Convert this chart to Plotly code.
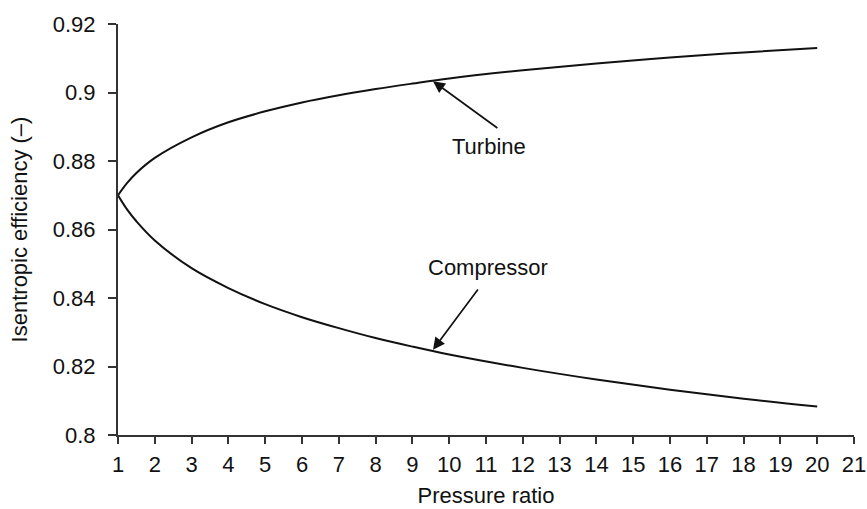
import plotly.graph_objects as go

pressure_ratio = [1.0, 1.25, 1.5, 2, 3, 4, 5, 6, 7, 8, 9, 10, 12, 14, 16, 18, 20]
turbine_eff = [0.8700, 0.8736, 0.8765, 0.8809, 0.8869, 0.8913, 0.8945, 0.8971, 0.8992,
               0.9010, 0.9026, 0.9041, 0.9065, 0.9085, 0.9102, 0.9117, 0.9130]
compressor_eff = [0.8700, 0.8658, 0.8624, 0.8568, 0.8487, 0.8429, 0.8382, 0.8344, 0.8312,
                  0.8283, 0.8258, 0.8235, 0.8196, 0.8162, 0.8132, 0.8106, 0.8083]

x_ticks = list(range(1, 22))
y_ticks = [0.80, 0.82, 0.84, 0.86, 0.88, 0.90, 0.92]
y_tick_labels = ["0.8", "0.82", "0.84", "0.86", "0.88", "0.9", "0.92"]

FONT = "Liberation Sans, Arial, Helvetica, sans-serif"
INK = "#111111"
AXIS = "#333333"
FS = 22

fig = go.Figure()
fig.add_trace(go.Scatter(x=pressure_ratio, y=turbine_eff, mode="lines", name="Turbine",
                         line=dict(color=INK, width=2, shape="spline")))
fig.add_trace(go.Scatter(x=pressure_ratio, y=compressor_eff, mode="lines", name="Compressor",
                         line=dict(color=INK, width=2, shape="spline")))

# arrows
fig.add_annotation(x=9.56, y=0.9033, ax=11.35, ay=0.8893, axref="x", ayref="y",
                   text="", showarrow=True, arrowhead=2, arrowsize=1.4, arrowwidth=1.7,
                   arrowcolor=INK, standoff=0)
fig.add_annotation(x=9.56, y=0.8249, ax=10.81, ay=0.8429, axref="x", ayref="y",
                   text="", showarrow=True, arrowhead=2, arrowsize=1.4, arrowwidth=1.7,
                   arrowcolor=INK, standoff=0)
# labels
fig.add_annotation(x=11.08, y=0.8841, text="Turbine", showarrow=False,
                   font=dict(family=FONT, size=FS, color=INK))
fig.add_annotation(x=11.05, y=0.8490, text="Compressor", showarrow=False,
                   font=dict(family=FONT, size=FS, color=INK))

fig.update_layout(
    width=867, height=509,
    margin=dict(l=118, r=13, t=24, b=74, autoexpand=False),
    paper_bgcolor="white", plot_bgcolor="white",
    showlegend=False,
    font=dict(family=FONT, size=FS, color=INK),
)
fig.update_xaxes(
    range=[1, 21], tickmode="array", tickvals=x_ticks, ticktext=[str(v) for v in x_ticks],
    showgrid=False, zeroline=False, showline=True, linecolor=AXIS, linewidth=2.2,
    ticks="outside", ticklen=7, tickwidth=1.8, tickcolor=AXIS, automargin=False,
    tickfont=dict(family=FONT, size=FS, color=INK), ticklabelstandoff=1,
    title=dict(text="Pressure ratio", font=dict(family=FONT, size=FS, color=INK), standoff=12),
)
fig.update_yaxes(
    range=[0.8, 0.92], tickmode="array", tickvals=y_ticks, ticktext=y_tick_labels,
    showgrid=False, zeroline=False, showline=True, linecolor=AXIS, linewidth=2.2,
    ticks="outside", ticklen=8, tickwidth=1.8, tickcolor=AXIS, automargin=False,
    tickfont=dict(family=FONT, size=FS, color=INK), ticklabelstandoff=8,
    title=dict(text="Isentropic efficiency (–)", font=dict(family=FONT, size=FS, color=INK), standoff=19),
)

fig.write_html("out.html")
